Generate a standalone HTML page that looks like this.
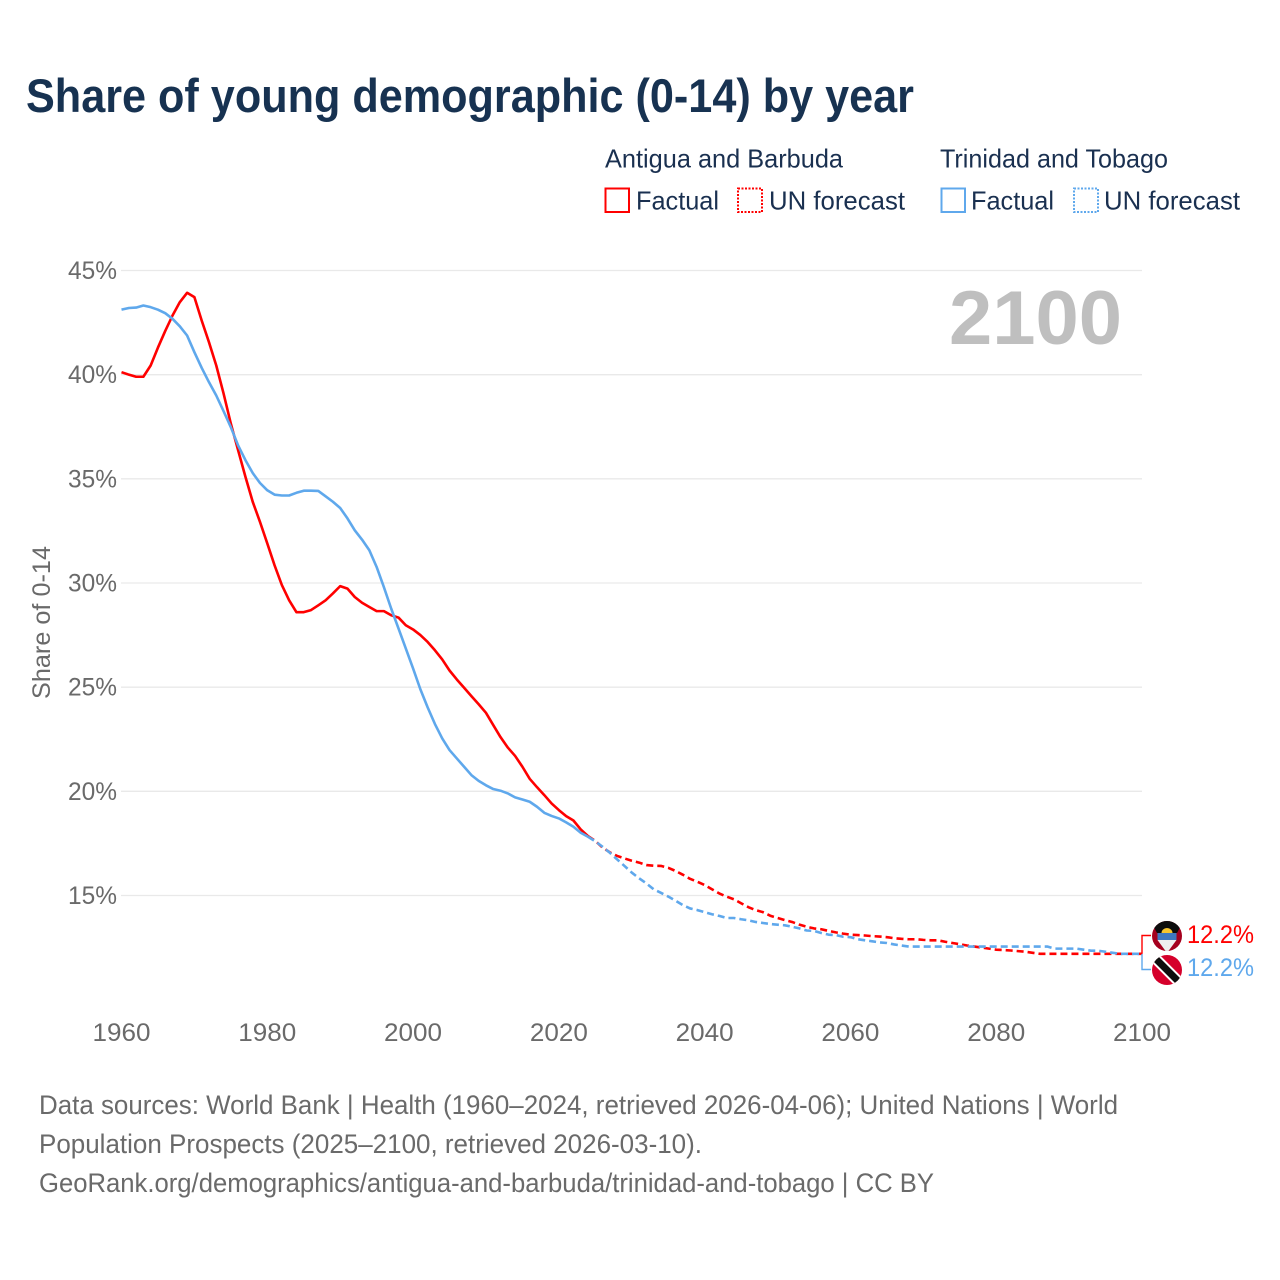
<!DOCTYPE html>
<html lang="en">
<head>
<meta charset="utf-8">
<title>Share of young demographic (0-14) by year</title>
<style>
html,body{margin:0;padding:0;background:#fff;}
svg{display:block;}
text{font-family:"Liberation Sans",sans-serif;}
</style>
</head>
<body>
<svg id="chart" xmlns="http://www.w3.org/2000/svg" width="1280" height="1280" viewBox="0 0 1280 1280">
  <defs>
    <clipPath id="flag-clip-a"><circle cx="1167" cy="936" r="15"/></clipPath>
    <clipPath id="flag-clip-b"><circle cx="1167" cy="970" r="15"/></clipPath>
  </defs>
  <text x="26" y="112" font-size="47" font-weight="700" fill="#173251" textLength="888" lengthAdjust="spacingAndGlyphs">Share of young demographic (0-14) by year</text>

  <g font-size="26" fill="#1a3050">
    <text x="605" y="167.5" textLength="238" lengthAdjust="spacingAndGlyphs">Antigua and Barbuda</text>
    <text x="940" y="167.5" textLength="228" lengthAdjust="spacingAndGlyphs">Trinidad and Tobago</text>
    <rect x="605.5" y="188.5" width="23.5" height="23.5" fill="none" stroke="#ff0000" stroke-width="2"/>
    <text x="636" y="209.5" textLength="83" lengthAdjust="spacingAndGlyphs">Factual</text>
    <rect x="738" y="188.5" width="24" height="23.5" fill="none" stroke="#ff0000" stroke-width="2" stroke-dasharray="2 1.5"/>
    <text x="769" y="209.5" textLength="136" lengthAdjust="spacingAndGlyphs">UN forecast</text>
    <rect x="941.5" y="188.5" width="23.5" height="23.5" fill="none" stroke="#5fa8ec" stroke-width="2"/>
    <text x="971" y="209.5" textLength="83" lengthAdjust="spacingAndGlyphs">Factual</text>
    <rect x="1074" y="188.5" width="24" height="23.5" fill="none" stroke="#5fa8ec" stroke-width="2" stroke-dasharray="2 1.5"/>
    <text x="1104" y="209.5" textLength="136" lengthAdjust="spacingAndGlyphs">UN forecast</text>
  </g>

  <g id="grid"></g>
  <g id="y-ticks"></g>
  <g id="x-ticks"></g>

  <text transform="translate(50 622.5) rotate(-90)" text-anchor="middle" font-size="25" fill="#6a6a6a" textLength="153" lengthAdjust="spacingAndGlyphs">Share of 0-14</text>
  <text x="949" y="344" font-size="76" font-weight="700" fill="#bfbfbf" textLength="173" lengthAdjust="spacingAndGlyphs">2100</text>

  <g id="series"></g>
  <g id="end-markers"></g>

  <g clip-path="url(#flag-clip-a)">
    <rect x="1150" y="920" width="34" height="32" fill="#a5001e"/>
    <polygon points="1150,920 1184,920 1177,933 1157,933" fill="#0d0d0d"/>
    <rect x="1157.5" y="933" width="19" height="7" fill="#3f78c0"/>
    <polygon points="1157.5,940 1176.5,940 1167,953" fill="#eeeeee"/>
    <path d="M1161.5 933a5.5 5 0 0 1 11 0z" fill="#f7c52e"/>
  </g>
  <g clip-path="url(#flag-clip-b)">
    <rect x="1150" y="953" width="34" height="34" fill="#d5002b"/>
    <line x1="1155" y1="958" x2="1179" y2="982" stroke="#ffffff" stroke-width="11"/>
    <line x1="1155" y1="958" x2="1179" y2="982" stroke="#0d0d0d" stroke-width="7"/>
  </g>

  <g font-size="27" fill="#6a6a6a">
    <text x="39" y="1114" textLength="1079" lengthAdjust="spacingAndGlyphs">Data sources: World Bank | Health (1960–2024, retrieved 2026-04-06); United Nations | World</text>
    <text x="39" y="1153" textLength="663" lengthAdjust="spacingAndGlyphs">Population Prospects (2025–2100, retrieved 2026-03-10).</text>
    <text x="39" y="1192" textLength="895" lengthAdjust="spacingAndGlyphs">GeoRank.org/demographics/antigua-and-barbuda/trinidad-and-tobago | CC BY</text>
  </g>
</svg>
<script>
const xTicks = [1960, 1980, 2000, 2020, 2040, 2060, 2080, 2100];
const yTicks = [15, 20, 25, 30, 35, 40, 45];
const firstFactualYear = 1960;
const firstForecastYear = 2024;
const antiguaFactual = [
  40.12,40.0,39.9,39.9,40.44,41.3,42.1,42.84,43.48,43.93,
  43.72,42.6,41.56,40.44,39.1,37.65,36.37,35.1,33.9,32.93,
  31.9,30.85,29.9,29.17,28.6,28.6,28.7,28.93,29.17,29.5,
  29.85,29.73,29.33,29.05,28.85,28.65,28.65,28.45,28.34,27.97,
  27.77,27.5,27.17,26.77,26.33,25.8,25.37,24.97,24.57,24.18,
  23.77,23.18,22.6,22.1,21.7,21.18,20.6,20.2,19.82,19.42,
  19.1,18.81,18.6,18.17,17.85
];
const antiguaForecast = [
  17.85,17.62,17.3,17.07,16.9,16.78,
  16.67,16.58,16.46,16.43,16.42,16.33,16.18,16.0,15.8,15.66,
  15.5,15.3,15.1,14.95,14.82,14.63,14.44,14.3,14.2,14.03,
  13.92,13.82,13.73,13.6,13.5,13.42,13.38,13.3,13.23,13.17,
  13.12,13.1,13.08,13.05,13.03,13.0,12.95,12.92,12.9,12.9,
  12.87,12.85,12.85,12.78,12.72,12.66,12.6,12.55,12.5,12.45,
  12.4,12.38,12.36,12.33,12.3,12.25,12.2,12.2,12.2,12.2,
  12.2,12.2,12.2,12.2,12.2,12.2,12.2,12.2,12.2,12.2,
  12.2
];
const trinidadFactual = [
  43.12,43.2,43.22,43.32,43.24,43.12,42.95,42.68,42.32,41.88,
  41.08,40.33,39.64,39.0,38.25,37.48,36.6,35.9,35.28,34.8,
  34.45,34.24,34.2,34.2,34.33,34.43,34.43,34.42,34.16,33.9,
  33.6,33.1,32.53,32.08,31.57,30.77,29.8,28.77,27.82,26.86,
  25.9,24.9,24.03,23.23,22.54,21.98,21.58,21.18,20.78,20.5,
  20.29,20.11,20.03,19.9,19.71,19.61,19.5,19.26,18.97,18.82,
  18.7,18.51,18.3,18.01,17.82
];
const trinidadForecast = [
  17.82,17.6,17.34,17.05,16.73,16.42,
  16.1,15.83,15.58,15.3,15.13,14.95,14.75,14.54,14.38,14.3,
  14.2,14.1,14.02,13.92,13.92,13.86,13.81,13.73,13.68,13.63,
  13.6,13.57,13.5,13.42,13.32,13.3,13.2,13.12,13.1,13.02,
  13.0,12.9,12.85,12.8,12.75,12.72,12.65,12.6,12.55,12.55,
  12.55,12.55,12.55,12.55,12.55,12.55,12.55,12.55,12.55,12.55,
  12.55,12.55,12.55,12.55,12.55,12.55,12.55,12.55,12.45,12.45,
  12.45,12.45,12.4,12.35,12.35,12.3,12.25,12.2,12.2,12.2,
  12.2
];

const NS = 'http://www.w3.org/2000/svg';
const RED = '#ff0000';
const BLUE = '#5fa8ec';
const xScale = function (year) { return 121.5 + (year - 1960) * (1142 - 121.5) / 140; };
const yScale = function (v) { return 270.5 + (45 - v) * (895.5 - 270.5) / 30; };

function make(parent, tag, props, text) {
  const el = document.createElementNS(NS, tag);
  Object.keys(props).forEach(function (k) { el.setAttribute(k, props[k]); });
  if (text !== undefined) el.textContent = text;
  parent.appendChild(el);
  return el;
}

const gridGroup = document.getElementById('grid');
const yGroup = document.getElementById('y-ticks');
yTicks.forEach(function (t) {
  const line = make(gridGroup, 'line', { x1: 121, x2: 1142, y1: yScale(t), y2: yScale(t), stroke: '#e9e9e9', 'stroke-width': 1.3 });
  
  
  const label = make(yGroup, 'text', { x: 68, y: yScale(t) + 8.5, 'font-size': 25, fill: '#6a6a6a', textLength: 49, lengthAdjust: 'spacingAndGlyphs' }, t + '%');
  
  
});

const xGroup = document.getElementById('x-ticks');
xTicks.forEach(function (t) {
  const label = make(xGroup, 'text', { x: xScale(t) - 29, y: 1041, 'font-size': 25, fill: '#6a6a6a', textLength: 58, lengthAdjust: 'spacingAndGlyphs' }, String(t));
  
  
});

function pathFor(values, startYear) {
  return values.map(function (v, i) {
    return (i ? 'L' : 'M') + xScale(startYear + i).toFixed(2) + ' ' + yScale(v).toFixed(2);
  }).join(' ');
}

const seriesGroup = document.getElementById('series');
function drawLine(values, startYear, color, dashed, name) {
  const props = { d: pathFor(values, startYear), fill: 'none', stroke: color, 'stroke-width': 2.6, 'stroke-linejoin': 'round' };
  if (dashed) props['stroke-dasharray'] = '7 4';
  const p = make(seriesGroup, 'path', props);
  
  
}
drawLine(antiguaFactual, firstFactualYear, RED, false, 'line-antigua-factual');
drawLine(antiguaForecast, firstForecastYear, RED, true, 'line-antigua-forecast');
drawLine(trinidadFactual, firstFactualYear, BLUE, false, 'line-trinidad-factual');
drawLine(trinidadForecast, firstForecastYear, BLUE, true, 'line-trinidad-forecast');

const endGroup = document.getElementById('end-markers');
function drawEnd(values, color, labelY, bracketY, name) {
  const last = values[values.length - 1];
  const yEnd = yScale(last);
  const d = 'M1142 ' + yEnd.toFixed(2) + ' L1142 ' + bracketY + ' L1151 ' + bracketY;
  const br = make(endGroup, 'path', { d: d, fill: 'none', stroke: color, 'stroke-width': 1.4 });
  
  
  const t = make(endGroup, 'text', { x: 1187, y: labelY, 'font-size': 25, fill: color, textLength: 67, lengthAdjust: 'spacingAndGlyphs' }, last.toFixed(1) + '%');
  
  
}
drawEnd(trinidadForecast, BLUE, 976, 969.5, 'trinidad');
drawEnd(antiguaForecast, RED, 943, 935.5, 'antigua');
</script>
</body>
</html>
